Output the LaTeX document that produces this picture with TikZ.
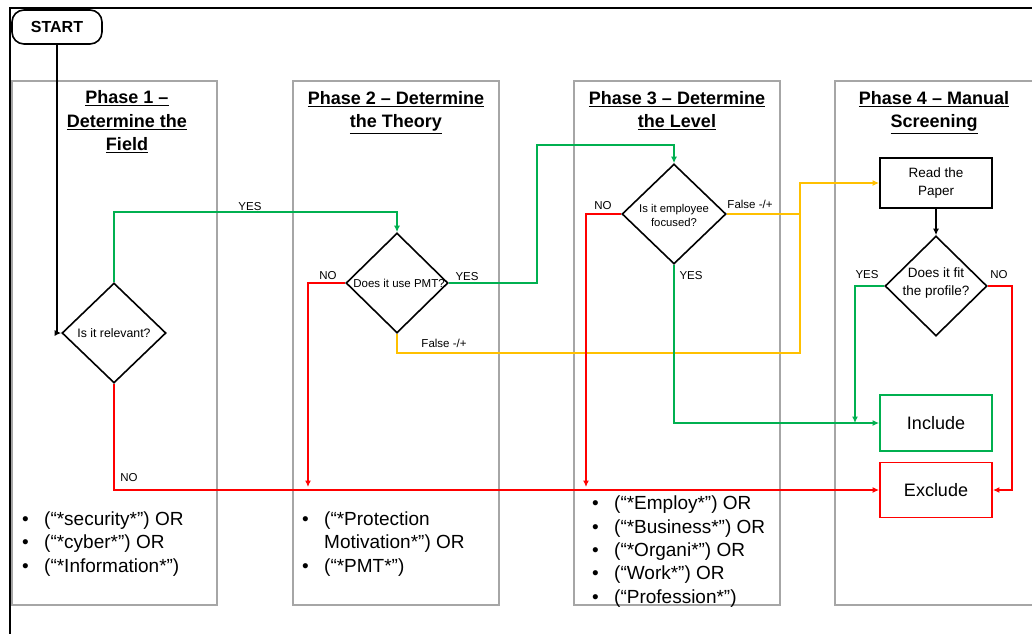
\documentclass[tikz,border=0pt]{standalone}
\usepackage{fontspec}
\setmainfont{Liberation Sans}
\usetikzlibrary{arrows.meta,shapes.geometric}
\definecolor{flowgreen}{HTML}{00B050}
\definecolor{flowred}{HTML}{FF0000}
\definecolor{flowyellow}{HTML}{FFC000}
\definecolor{phasegray}{HTML}{A6A6A6}
\newcommand\fsz[2]{\fontsize{#1}{#2}\selectfont}
\newcommand\bul{\makebox[22pt][l]{\textbullet}}

\begin{document}
\begin{tikzpicture}[x=1pt,y=-1pt,
  phasebox/.style={draw=phasegray,line width=2.6pt},
  header/.style={anchor=north,align=center,inner sep=0pt,font=\fsz{18}{23.5}\bfseries},
  listline/.style={anchor=base west,inner sep=0pt,font=\fsz{19}{23.5}},
  decision/.style={draw,diamond,line width=1.6pt,inner sep=0pt,minimum height=100pt},
  dtext/.style={align=center,inner sep=0pt},
  stepbox/.style={draw,line width=1.8pt,minimum width=112pt,inner sep=0pt},
  lbl/.style={inner sep=0pt,font=\fsz{11.5}{13}},
  tip/.style={-{Latex[length=6.5pt,width=6pt]}},
  blk/.style={line width=1.6pt,black},
  grn/.style={line width=1.6pt,flowgreen},
  rd/.style={line width=1.6pt,flowred},
  ylw/.style={line width=1.6pt,flowyellow}
]
\clip (0,0) rectangle (1032,633);
\fill[white] (0,0) rectangle (1032,633);

% outer frame
\draw[line width=1.8pt] (10,650) -- (10,8) -- (1050,8);

% phase columns
\draw[phasebox] (12,81) rectangle (217,605);
\draw[phasebox] (293,81) rectangle (499,605);
\draw[phasebox] (574,81) rectangle (780,605);
\draw[phasebox] (835,81) rectangle (1050,605);

\node[header] (h1) at (127,90.5) {\underline{Phase 1 –}\\\underline{Determine the}\\\underline{Field}};
\node[header] (h2) at (396,91) {\underline{Phase 2 – Determine}\\\underline{the Theory}};
\node[header] (h3) at (677,91) {\underline{Phase 3 – Determine}\\\underline{the Level}};
\node[header] (h4) at (934,91) {\underline{Phase 4 – Manual}\\\underline{Screening}};

% start terminal
\node[draw,line width=1.6pt,rounded corners=12pt,minimum width=90pt,minimum height=34pt,inner sep=0pt,font=\fsz{16}{18}\bfseries] (start) at (57,27) {START};

% decisions
\node[decision,minimum width=104pt] (d1) at (114,333) {};
\node[dtext,font=\fsz{12.3}{14}] (d1t) at (114,333) {Is it relevant?};
\node[decision,minimum width=102pt] (d2) at (397,283) {};
\node[dtext,font=\fsz{11.5}{14}] (d2t) at (399,283) {Does it use PMT?};
\node[decision,minimum width=104pt] (d3) at (674,214) {};
\node[dtext,font=\fsz{11.3}{14}] (d3t) at (674,215) {Is it employee\\focused?};
\node[decision,minimum width=102pt] (d4) at (936,286) {};
\node[dtext,font=\fsz{13.5}{18.5}] (d4t) at (936,283) {Does it fit\\the profile?};

% process and outcome boxes
\node[stepbox,minimum height=50pt,align=center,font=\fsz{13.5}{18.5}] (read) at (936,183) {Read the\\Paper};
\node[stepbox,draw=flowgreen,minimum height=56pt,font=\fsz{18}{20}] (include) at (936,423) {Include};
\node[stepbox,draw=flowred,minimum height=55pt,font=\fsz{18}{20}] (exclude) at (936,490) {Exclude};

% free ends and bends
\coordinate (no2end) at (308,487);
\coordinate (no3end) at (586,487);
\coordinate (g2bend) at (537,145);
\coordinate (ybend) at (800,353);
\coordinate (g4end) at (855,423);
\coordinate (r4bend) at (1012,490);

% connectors
\draw[blk,tip] (start.south) |- (d1.west);
\draw[grn,tip] (d1.north) -- ++(0,-70) -| (d2.north);
\draw[rd,tip] (d1.south) |- (exclude.west);
\draw[rd,tip] (d2.west) -| (no2end);
\draw[grn,tip] (d2.east) -| (g2bend) -| (d3.north);
\draw[ylw,tip] (d2.south) |- (ybend) -- (ybend |- read.west) -- (read.west);
\draw[rd,tip] (d3.west) -| (no3end);
\draw[ylw] (d3.east) -- (d3.east -| ybend);
\draw[grn,tip] (d3.south) |- (include.west);
\draw[blk,tip] (read.south) -- (d4.north);
\draw[grn,tip] (d4.west) -| (g4end);
\draw[rd,tip] (d4.east) -| (r4bend) -- (exclude.east);

% branch labels
\node[lbl] (l1y) at (250,207) {YES};
\node[lbl] (l1n) at (129,478) {NO};
\node[lbl] (l2n) at (328,276) {NO};
\node[lbl] (l2y) at (467,277) {YES};
\node[lbl] (l2f) at (444,343) {False -/+};
\node[lbl] (l3n) at (603,206) {NO};
\node[lbl] (l3f) at (750,204) {False -/+};
\node[lbl] (l3y) at (691,276) {YES};
\node[lbl] (l4y) at (867,275) {YES};
\node[lbl] (l4n) at (999,275) {NO};

% search terms
\node[listline] (t1a) at (22,525) {\bul(“*security*”) OR};
\node[listline] (t1b) at (22,548) {\bul(“*cyber*”) OR};
\node[listline] (t1c) at (22,572) {\bul(“*Information*”)};
\node[listline] (t2a) at (302,525) {\bul(“*Protection};
\node[listline] (t2b) at (302,548) {\hspace*{22pt}Motivation*”) OR};
\node[listline] (t2c) at (302,572) {\bul(“*PMT*”)};
\node[listline] (t3a) at (592,509) {\bul(“*Employ*”) OR};
\node[listline] (t3b) at (592,533) {\bul(“*Business*”) OR};
\node[listline] (t3c) at (592,556) {\bul(“*Organi*”) OR};
\node[listline] (t3d) at (592,579) {\bul(“Work*”) OR};
\node[listline] (t3e) at (592,603) {\bul(“Profession*”)};
\end{tikzpicture}
\end{document}
